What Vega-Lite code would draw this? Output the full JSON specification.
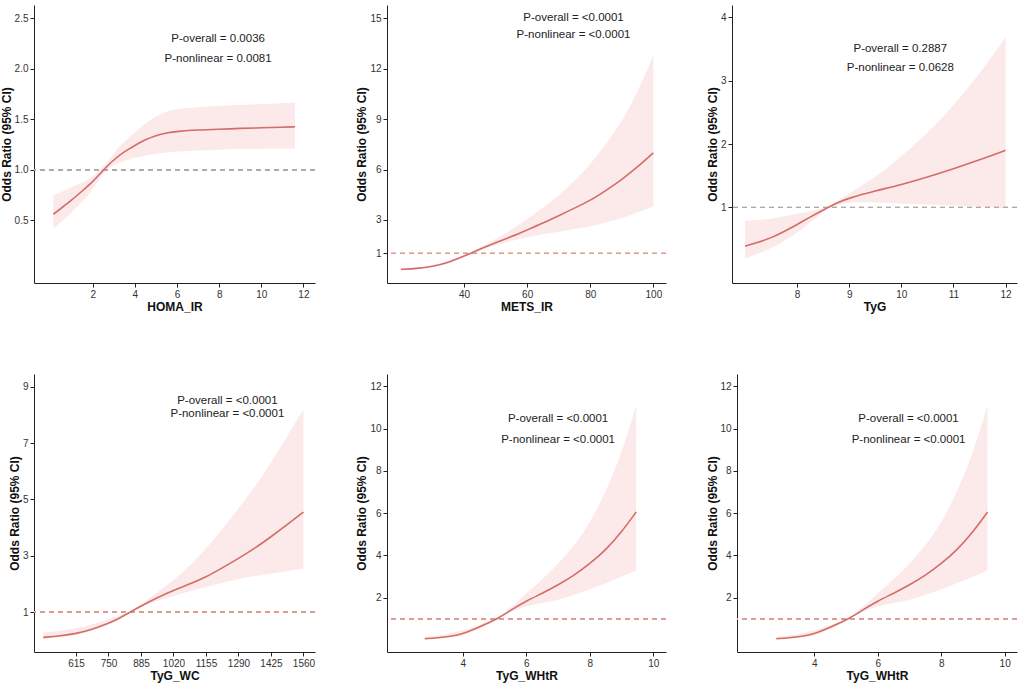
{
  "$schema": "https://vega.github.io/schema/vega-lite/v6.json",
  "padding": {"left": 0, "top": 5, "right": 2, "bottom": 8},
  "background": "white",
  "config": {
    "font": "Liberation Sans",
    "view": {"stroke": null},
    "axis": {"grid": false, "domainColor": "#222", "domainWidth": 1, "tickColor": "#222", "tickSize": 4, "labelFontSize": 10, "labelColor": "#333", "labelPadding": 2, "titleFontSize": 12, "titleFontWeight": "bold", "titleColor": "#111", "titlePadding": 3, "labelFlush": false, "labelOverlap": false},
    "axisX": {"titlePadding": 2},
    "area": {"color": "#FCE9E9", "interpolate": "basis"},
    "line": {"color": "#D26D68", "strokeWidth": 1.6, "interpolate": "basis"},
    "text": {"fontSize": 11.5, "color": "#222"}
  },
  "spacing": 62,
  "vconcat": [
    {
      "spacing": 39,
      "hconcat": [
        {
          "width": 281, "height": 278,
          "data": {"values": [
            {"x": 0.13, "or": 0.56, "lo": 0.42, "hi": 0.75},
            {"x": 0.5, "or": 0.62, "lo": 0.48, "hi": 0.78},
            {"x": 1.0, "or": 0.70, "lo": 0.58, "hi": 0.83},
            {"x": 1.5, "or": 0.79, "lo": 0.68, "hi": 0.87},
            {"x": 2.0, "or": 0.88, "lo": 0.80, "hi": 0.93},
            {"x": 2.5, "or": 1.0, "lo": 0.98, "hi": 1.02},
            {"x": 3.0, "or": 1.10, "lo": 1.05, "hi": 1.17},
            {"x": 3.5, "or": 1.18, "lo": 1.09, "hi": 1.28},
            {"x": 4.0, "or": 1.24, "lo": 1.12, "hi": 1.37},
            {"x": 4.5, "or": 1.30, "lo": 1.14, "hi": 1.46},
            {"x": 5.0, "or": 1.34, "lo": 1.16, "hi": 1.53},
            {"x": 5.5, "or": 1.365, "lo": 1.17, "hi": 1.58},
            {"x": 6.0, "or": 1.38, "lo": 1.18, "hi": 1.60},
            {"x": 7.0, "or": 1.395, "lo": 1.19, "hi": 1.62},
            {"x": 8.0, "or": 1.40, "lo": 1.20, "hi": 1.63},
            {"x": 9.0, "or": 1.41, "lo": 1.205, "hi": 1.64},
            {"x": 10.0, "or": 1.415, "lo": 1.21, "hi": 1.65},
            {"x": 11.0, "or": 1.42, "lo": 1.21, "hi": 1.66},
            {"x": 11.6, "or": 1.425, "lo": 1.21, "hi": 1.665}
          ]},
          "layer": [
            {"mark": "area", "encoding": {
              "x": {"field": "x", "type": "quantitative", "scale": {"domain": [-0.79, 12.55], "nice": false, "zero": false}, "axis": {"values": [2, 4, 6, 8, 10, 12], "format": "d"}, "title": "HOMA_IR"},
              "y": {"field": "lo", "type": "quantitative", "scale": {"domain": [-0.12, 2.63], "nice": false, "zero": false}, "axis": {"values": [0.5, 1.0, 1.5, 2.0, 2.5], "format": ".1f", "minExtent": 18, "maxExtent": 18}, "title": "Odds Ratio (95% CI)"}, "y2": {"field": "hi"}}},
            {"mark": {"type": "rule", "color": "#B3A7A7", "strokeDash": [5, 4], "strokeWidth": 1}, "encoding": {"y": {"datum": 1}}},
            {"mark": "line", "encoding": {"x": {"field": "x", "type": "quantitative", "title": "HOMA_IR"}, "y": {"field": "or", "type": "quantitative", "title": "Odds Ratio (95% CI)"}}},
            {"data": {"values": [{"t": "P-overall = 0.0036", "ty": 2.295}, {"t": "P-nonlinear = 0.0081", "ty": 2.1}]}, "mark": "text", "encoding": {"x": {"datum": 7.95}, "y": {"field": "ty", "type": "quantitative", "title": "Odds Ratio (95% CI)"}, "text": {"field": "t"}}}
          ]
        },
        {
          "width": 279, "height": 278,
          "data": {"values": [
            {"x": 20, "or": 0.05, "lo": 0.0, "hi": 0.1},
            {"x": 25, "or": 0.1, "lo": 0.05, "hi": 0.15},
            {"x": 30, "or": 0.22, "lo": 0.15, "hi": 0.3},
            {"x": 35, "or": 0.45, "lo": 0.38, "hi": 0.52},
            {"x": 40, "or": 0.85, "lo": 0.80, "hi": 0.90},
            {"x": 42, "or": 1.0, "lo": 0.97, "hi": 1.03},
            {"x": 45, "or": 1.25, "lo": 1.18, "hi": 1.33},
            {"x": 50, "or": 1.65, "lo": 1.5, "hi": 1.85},
            {"x": 55, "or": 2.0, "lo": 1.75, "hi": 2.4},
            {"x": 60, "or": 2.4, "lo": 1.98, "hi": 3.05},
            {"x": 65, "or": 2.8, "lo": 2.15, "hi": 3.7},
            {"x": 70, "or": 3.25, "lo": 2.3, "hi": 4.45},
            {"x": 75, "or": 3.7, "lo": 2.45, "hi": 5.3},
            {"x": 80, "or": 4.15, "lo": 2.6, "hi": 6.3},
            {"x": 85, "or": 4.75, "lo": 2.85, "hi": 7.5},
            {"x": 90, "or": 5.4, "lo": 3.1, "hi": 8.85},
            {"x": 95, "or": 6.15, "lo": 3.45, "hi": 10.6},
            {"x": 100, "or": 7.0, "lo": 3.8, "hi": 12.8}
          ]},
          "layer": [
            {"mark": "area", "encoding": {
              "x": {"field": "x", "type": "quantitative", "scale": {"domain": [15.6, 104.0], "nice": false, "zero": false}, "axis": {"values": [40, 60, 80, 100], "format": "d"}, "title": "METS_IR"},
              "y": {"field": "lo", "type": "quantitative", "scale": {"domain": [-0.76, 15.8], "nice": false, "zero": false}, "axis": {"values": [1, 3, 6, 9, 12, 15], "format": "d", "minExtent": 16, "maxExtent": 16}, "title": "Odds Ratio (95% CI)"}, "y2": {"field": "hi"}}},
            {"mark": {"type": "rule", "color": "#E09A95", "strokeDash": [5, 4], "strokeWidth": 1}, "encoding": {"y": {"datum": 1}}},
            {"mark": "line", "encoding": {"x": {"field": "x", "type": "quantitative", "title": "METS_IR"}, "y": {"field": "or", "type": "quantitative", "title": "Odds Ratio (95% CI)"}}},
            {"data": {"values": [{"t": "P-overall = <0.0001", "ty": 15.0}, {"t": "P-nonlinear = <0.0001", "ty": 14.0}]}, "mark": "text", "encoding": {"x": {"datum": 74.7}, "y": {"field": "ty", "type": "quantitative", "title": "Odds Ratio (95% CI)"}, "text": {"field": "t"}}}
          ]
        },
        {
          "width": 285, "height": 278,
          "data": {"values": [
            {"x": 7.0, "or": 0.39, "lo": 0.20, "hi": 0.79},
            {"x": 7.25, "or": 0.45, "lo": 0.27, "hi": 0.80},
            {"x": 7.5, "or": 0.52, "lo": 0.36, "hi": 0.82},
            {"x": 7.75, "or": 0.62, "lo": 0.47, "hi": 0.86},
            {"x": 8.0, "or": 0.73, "lo": 0.60, "hi": 0.90},
            {"x": 8.25, "or": 0.85, "lo": 0.76, "hi": 0.94},
            {"x": 8.5, "or": 0.96, "lo": 0.93, "hi": 0.99},
            {"x": 8.6, "or": 1.0, "lo": 0.99, "hi": 1.01},
            {"x": 8.75, "or": 1.07, "lo": 1.03, "hi": 1.10},
            {"x": 9.0, "or": 1.15, "lo": 1.09, "hi": 1.22},
            {"x": 9.5, "or": 1.26, "lo": 1.08, "hi": 1.47},
            {"x": 10.0, "or": 1.36, "lo": 1.06, "hi": 1.80},
            {"x": 10.5, "or": 1.48, "lo": 1.045, "hi": 2.17},
            {"x": 11.0, "or": 1.61, "lo": 1.03, "hi": 2.60},
            {"x": 11.5, "or": 1.75, "lo": 1.01, "hi": 3.10},
            {"x": 12.0, "or": 1.90, "lo": 0.99, "hi": 3.68}
          ]},
          "layer": [
            {"mark": "area", "encoding": {
              "x": {"field": "x", "type": "quantitative", "scale": {"domain": [6.75, 12.22], "nice": false, "zero": false}, "axis": {"values": [8, 9, 10, 11, 12], "format": "d"}, "title": "TyG"},
              "y": {"field": "lo", "type": "quantitative", "scale": {"domain": [-0.19, 4.19], "nice": false, "zero": false}, "axis": {"values": [1, 2, 3, 4], "format": "d", "minExtent": 10, "maxExtent": 10}, "title": "Odds Ratio (95% CI)"}, "y2": {"field": "hi"}}},
            {"mark": {"type": "rule", "color": "#B3A7A7", "strokeDash": [5, 4], "strokeWidth": 1}, "encoding": {"y": {"datum": 1}}},
            {"mark": "line", "encoding": {"x": {"field": "x", "type": "quantitative", "title": "TyG"}, "y": {"field": "or", "type": "quantitative", "title": "Odds Ratio (95% CI)"}}},
            {"data": {"values": [{"t": "P-overall = 0.2887", "ty": 3.49}, {"t": "P-nonlinear = 0.0628", "ty": 3.19}]}, "mark": "text", "encoding": {"x": {"datum": 9.98}, "y": {"field": "ty", "type": "quantitative", "title": "Odds Ratio (95% CI)"}, "text": {"field": "t"}}}
          ]
        }
      ]
    },
    {
      "spacing": 39,
      "hconcat": [
        {
          "width": 281, "height": 278,
          "data": {"values": [
            {"x": 479, "or": 0.10, "lo": 0.05, "hi": 0.27},
            {"x": 550, "or": 0.15, "lo": 0.10, "hi": 0.33},
            {"x": 615, "or": 0.23, "lo": 0.17, "hi": 0.41},
            {"x": 680, "or": 0.38, "lo": 0.32, "hi": 0.55},
            {"x": 750, "or": 0.59, "lo": 0.53, "hi": 0.75},
            {"x": 800, "or": 0.80, "lo": 0.77, "hi": 0.87},
            {"x": 840, "or": 1.0, "lo": 0.99, "hi": 1.01},
            {"x": 885, "or": 1.21, "lo": 1.18, "hi": 1.28},
            {"x": 950, "or": 1.50, "lo": 1.40, "hi": 1.68},
            {"x": 1020, "or": 1.77, "lo": 1.57, "hi": 2.12},
            {"x": 1090, "or": 2.0, "lo": 1.74, "hi": 2.65},
            {"x": 1155, "or": 2.24, "lo": 1.89, "hi": 3.25},
            {"x": 1220, "or": 2.55, "lo": 2.03, "hi": 3.9},
            {"x": 1290, "or": 2.9, "lo": 2.18, "hi": 4.67},
            {"x": 1360, "or": 3.27, "lo": 2.28, "hi": 5.45},
            {"x": 1425, "or": 3.67, "lo": 2.36, "hi": 6.3},
            {"x": 1490, "or": 4.08, "lo": 2.45, "hi": 7.2},
            {"x": 1560, "or": 4.55, "lo": 2.54, "hi": 8.2}
          ]},
          "layer": [
            {"mark": "area", "encoding": {
              "x": {"field": "x", "type": "quantitative", "scale": {"domain": [440.6, 1608], "nice": false, "zero": false}, "axis": {"values": [615, 750, 885, 1020, 1155, 1290, 1425, 1560], "format": "d"}, "title": "TyG_WC"},
              "y": {"field": "lo", "type": "quantitative", "scale": {"domain": [-0.42, 9.45], "nice": false, "zero": false}, "axis": {"values": [1, 3, 5, 7, 9], "format": "d", "minExtent": 10, "maxExtent": 10}, "title": "Odds Ratio (95% CI)"}, "y2": {"field": "hi"}}},
            {"mark": {"type": "rule", "color": "#E09A95", "strokeDash": [5, 4], "strokeWidth": 1}, "encoding": {"y": {"datum": 1}}},
            {"mark": "line", "encoding": {"x": {"field": "x", "type": "quantitative", "title": "TyG_WC"}, "y": {"field": "or", "type": "quantitative", "title": "Odds Ratio (95% CI)"}}},
            {"data": {"values": [{"t": "P-overall = <0.0001", "ty": 8.5}, {"t": "P-nonlinear = <0.0001", "ty": 8.02}]}, "mark": "text", "encoding": {"x": {"datum": 1244}, "y": {"field": "ty", "type": "quantitative", "title": "Odds Ratio (95% CI)"}, "text": {"field": "t"}}}
          ]
        },
        {
          "width": 279, "height": 278,
          "data": {"values": [
            {"x": 2.8, "or": 0.06, "lo": 0.01, "hi": 0.14},
            {"x": 3.2, "or": 0.1, "lo": 0.05, "hi": 0.2},
            {"x": 3.6, "or": 0.17, "lo": 0.11, "hi": 0.3},
            {"x": 4.0, "or": 0.29, "lo": 0.2, "hi": 0.45},
            {"x": 4.5, "or": 0.6, "lo": 0.52, "hi": 0.7},
            {"x": 5.1, "or": 1.0, "lo": 0.98, "hi": 1.02},
            {"x": 5.5, "or": 1.4, "lo": 1.32, "hi": 1.52},
            {"x": 6.0, "or": 1.85, "lo": 1.6, "hi": 2.2},
            {"x": 6.5, "or": 2.2, "lo": 1.75, "hi": 2.85},
            {"x": 7.0, "or": 2.6, "lo": 1.88, "hi": 3.6},
            {"x": 7.5, "or": 3.05, "lo": 2.13, "hi": 4.45},
            {"x": 8.0, "or": 3.6, "lo": 2.4, "hi": 5.5},
            {"x": 8.5, "or": 4.25, "lo": 2.68, "hi": 7.0},
            {"x": 9.0, "or": 5.1, "lo": 3.0, "hi": 8.8},
            {"x": 9.46, "or": 6.05, "lo": 3.29, "hi": 11.1}
          ]},
          "layer": [
            {"mark": "area", "encoding": {
              "x": {"field": "x", "type": "quantitative", "scale": {"domain": [1.61, 10.4], "nice": false, "zero": false}, "axis": {"values": [4, 6, 8, 10], "format": "d"}, "title": "TyG_WHtR"},
              "y": {"field": "lo", "type": "quantitative", "scale": {"domain": [-0.57, 12.58], "nice": false, "zero": false}, "axis": {"values": [2, 4, 6, 8, 10, 12], "format": "d", "minExtent": 16, "maxExtent": 16}, "title": "Odds Ratio (95% CI)"}, "y2": {"field": "hi"}}},
            {"mark": {"type": "rule", "color": "#E09A95", "strokeDash": [5, 4], "strokeWidth": 1}, "encoding": {"y": {"datum": 1}}},
            {"mark": "line", "encoding": {"x": {"field": "x", "type": "quantitative", "title": "TyG_WHtR"}, "y": {"field": "or", "type": "quantitative", "title": "Odds Ratio (95% CI)"}}},
            {"data": {"values": [{"t": "P-overall = <0.0001", "ty": 10.46}, {"t": "P-nonlinear = <0.0001", "ty": 9.46}]}, "mark": "text", "encoding": {"x": {"datum": 7.0}, "y": {"field": "ty", "type": "quantitative", "title": "Odds Ratio (95% CI)"}, "text": {"field": "t"}}}
          ]
        },
        {
          "width": 280, "height": 278,
          "data": {"values": [
            {"x": 2.8, "or": 0.06, "lo": 0.01, "hi": 0.14},
            {"x": 3.2, "or": 0.1, "lo": 0.05, "hi": 0.2},
            {"x": 3.6, "or": 0.17, "lo": 0.11, "hi": 0.3},
            {"x": 4.0, "or": 0.29, "lo": 0.2, "hi": 0.45},
            {"x": 4.5, "or": 0.6, "lo": 0.52, "hi": 0.7},
            {"x": 5.1, "or": 1.0, "lo": 0.98, "hi": 1.02},
            {"x": 5.5, "or": 1.4, "lo": 1.32, "hi": 1.52},
            {"x": 6.0, "or": 1.85, "lo": 1.6, "hi": 2.2},
            {"x": 6.5, "or": 2.2, "lo": 1.75, "hi": 2.85},
            {"x": 7.0, "or": 2.6, "lo": 1.88, "hi": 3.6},
            {"x": 7.5, "or": 3.05, "lo": 2.13, "hi": 4.45},
            {"x": 8.0, "or": 3.6, "lo": 2.4, "hi": 5.5},
            {"x": 8.5, "or": 4.25, "lo": 2.68, "hi": 7.0},
            {"x": 9.0, "or": 5.1, "lo": 3.0, "hi": 8.8},
            {"x": 9.46, "or": 6.05, "lo": 3.29, "hi": 11.1}
          ]},
          "layer": [
            {"mark": "area", "encoding": {
              "x": {"field": "x", "type": "quantitative", "scale": {"domain": [1.56, 10.39], "nice": false, "zero": false}, "axis": {"values": [4, 6, 8, 10], "format": "d"}, "title": "TyG_WHtR"},
              "y": {"field": "lo", "type": "quantitative", "scale": {"domain": [-0.57, 12.58], "nice": false, "zero": false}, "axis": {"values": [2, 4, 6, 8, 10, 12], "format": "d", "minExtent": 15, "maxExtent": 15}, "title": "Odds Ratio (95% CI)"}, "y2": {"field": "hi"}}},
            {"mark": {"type": "rule", "color": "#E09A95", "strokeDash": [5, 4], "strokeWidth": 1}, "encoding": {"y": {"datum": 1}}},
            {"mark": "line", "encoding": {"x": {"field": "x", "type": "quantitative", "title": "TyG_WHtR"}, "y": {"field": "or", "type": "quantitative", "title": "Odds Ratio (95% CI)"}}},
            {"data": {"values": [{"t": "P-overall = <0.0001", "ty": 10.46}, {"t": "P-nonlinear = <0.0001", "ty": 9.46}]}, "mark": "text", "encoding": {"x": {"datum": 6.97}, "y": {"field": "ty", "type": "quantitative", "title": "Odds Ratio (95% CI)"}, "text": {"field": "t"}}}
          ]
        }
      ]
    }
  ]
}
